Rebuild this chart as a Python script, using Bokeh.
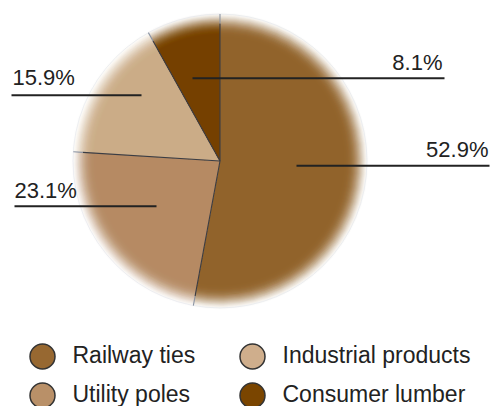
import math
from bokeh.plotting import figure
from bokeh.models import Range1d, ColumnDataSource
from bokeh.core.properties import value
from bokeh.embed import file_html
from bokeh.resources import INLINE

# ---- data ----
categories = ["Railway ties", "Utility poles", "Industrial products", "Consumer lumber"]
values = [52.9, 23.1, 15.9, 8.1]
pct_labels = ["52.9%", "23.1%", "15.9%", "8.1%"]
colors = ["#976831", "#B99068", "#CFAE8C", "#7A4500"]

# ---- layout (figure coords, y up) ----
W, H = 492, 406
CX, CY = 219.5, 245.5
R = 149.5
FADE = 26.0
FONT = value("Liberation Sans")
FS_LAB = "22px"
FS_LEG = "23px"

# leader lines (x0, x1, y) and label anchors (x, y = cap centre, align)
lead_x0 = [296, 14, 11, 192]
lead_x1 = [489, 156, 141, 444]
lead_y = [240.7, 200.3, 311.3, 328.3]
lab_x = [488, 14, 12, 442]
lab_y = [257, 216.5, 329, 344.5]
lab_align = ["right", "left", "left", "right"]

leg_cx = [42, 42, 252, 252]
leg_cy = [50, 11, 50, 11]
leg_tx = [72, 72, 282, 282]
leg_ty = [52, 13, 52, 13]

p = figure(width=W, height=H, x_range=Range1d(0, W), y_range=Range1d(0, H),
           output_backend="svg", toolbar_location=None, min_border=0)
p.axis.visible = False
p.grid.visible = False
p.outline_line_color = None
p.background_fill_color = "white"

total = sum(values)
starts, ends = [], []
acc = 0.0
for v in values:
    starts.append(math.pi / 2 - acc / total * 2 * math.pi)
    acc += v
    ends.append(math.pi / 2 - acc / total * 2 * math.pi)

# core wedges
R0 = R - FADE
p.wedge(x=[CX] * 4, y=[CY] * 4, radius=R0, start_angle=starts, end_angle=ends,
        direction="clock", fill_color=colors, line_color=None)

# soft edge: stacked wedges with computed alpha
N = 26
cov = []
for j in range(1, N + 1):
    t = (j - 0.5) / N
    cov.append(0.5 * (1 + math.cos(math.pi * t ** 1.4)))
alphas = [0.0] * N
nxt = 0.0
for j in range(N - 1, -1, -1):
    alphas[j] = 1 - (1 - cov[j]) / (1 - nxt) if nxt < 1 else 0
    nxt = cov[j]
xs, ys, rs, sa, ea, fc, fa = [], [], [], [], [], [], []
for i in range(4):
    for j in range(N):
        xs.append(CX); ys.append(CY)
        rs.append(R0 + (j + 1) * FADE / N)
        sa.append(starts[i]); ea.append(ends[i])
        fc.append(colors[i]); fa.append(alphas[j])
src = ColumnDataSource(dict(x=xs, y=ys, r=rs, s=sa, e=ea, c=fc, a=fa))
p.wedge(x="x", y="y", radius="r", start_angle="s", end_angle="e", direction="clock",
        fill_color="c", fill_alpha="a", line_color=None, source=src)

# faint rim
p.circle(x=[CX], y=[CY], radius=R - 2.5, fill_color=None, line_color="#dde2ea",
         line_width=1, line_alpha=0.5)

# dividers
RI = R - 12
for a in starts:
    p.segment(x0=[CX], y0=[CY], x1=[CX + RI * math.cos(a)], y1=[CY + RI * math.sin(a)],
              line_color="#3b3d44", line_width=1.1)
    p.segment(x0=[CX + RI * math.cos(a)], y0=[CY + RI * math.sin(a)],
              x1=[CX + (R - 2.5) * math.cos(a)], y1=[CY + (R - 2.5) * math.sin(a)],
              line_color="#8c95a4", line_width=1.1)

# leader lines and labels
p.segment(x0=lead_x0, y0=lead_y, x1=lead_x1, y1=lead_y, line_color="#222222", line_width=2)
for i in range(4):
    p.text(x=[lab_x[i]], y=[lab_y[i]], text=[pct_labels[i]], text_align=lab_align[i],
           text_baseline="middle", text_font=FONT, text_font_size=FS_LAB,
           text_color="#222222")

# legend
p.scatter(x=leg_cx, y=leg_cy, size=25, marker="circle", fill_color=colors,
          line_color="#333333", line_width=1.5)
p.text(x=leg_tx, y=leg_ty, text=categories, text_align="left", text_baseline="middle",
       text_font=FONT, text_font_size=FS_LEG, text_color="#222222")

open("out.html", "w").write(file_html(p, INLINE))
